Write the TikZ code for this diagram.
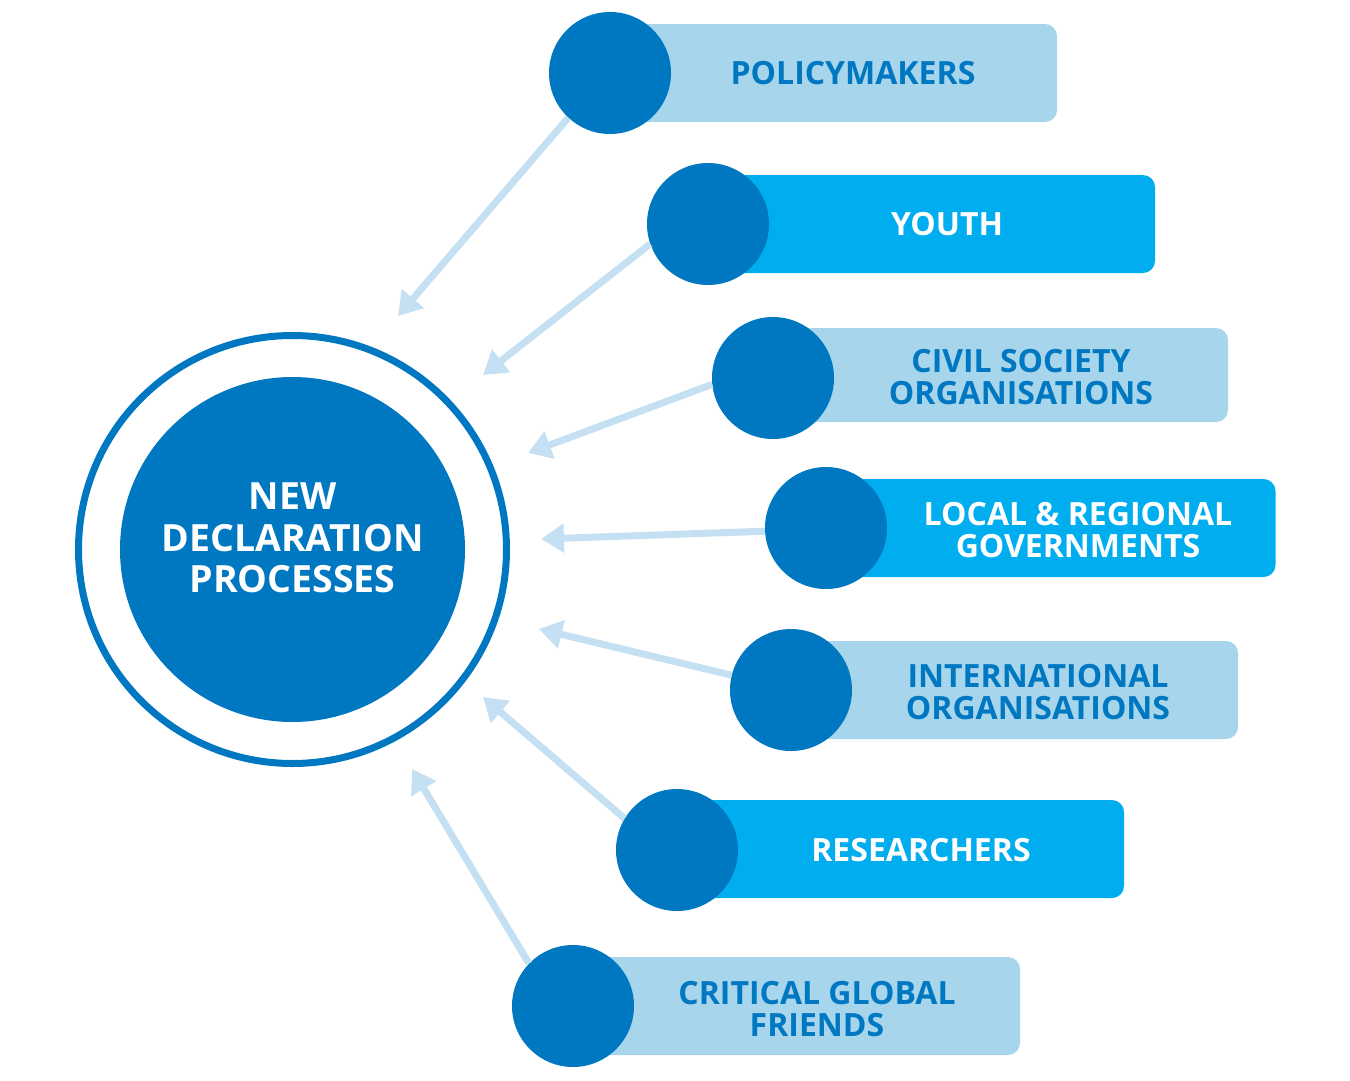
\documentclass[tikz,border=0pt]{standalone}
\usepackage{fontspec}
\setmainfont{Open Sans}
\usetikzlibrary{arrows.meta}
\definecolor{declblue}{RGB}{0,119,193}
\definecolor{barlight}{RGB}{166,213,236}
\definecolor{barbright}{RGB}{0,174,239}
\definecolor{arrowblue}{RGB}{197,224,242}

\begin{document}
\begin{tikzpicture}[x=1pt, y=-1pt,
  bar/.style={rectangle, rounded corners=12pt, minimum width=447pt, minimum height=98pt, inner sep=0pt},
  disc/.style={circle, fill=declblue, minimum size=122pt, inner sep=0pt},
  grouptext/.style={align=center, inner sep=0pt, font=\bfseries\fontsize{32}{32}\selectfont},
  feed/.style={-{Triangle[width=28pt,length=23pt]}, line width=7pt, draw=arrowblue}
]
\useasboundingbox (0,0) rectangle (1350,1080);

% centre
\node[circle, draw=declblue, line width=7pt, minimum size=428pt, inner sep=0pt] (ring) at (292.5,549.5) {};
\node[circle, fill=declblue, minimum size=345pt, inner sep=0pt] (core) at (292.5,549.5) {};
\node[text=white, align=center, inner sep=0pt,
  font=\bfseries\fontsize{37.5}{41.5}\selectfont] (coretxt) at (292.5,538) {NEW\\DECLARATION\\PROCESSES};

% groups
\node[bar, fill=barlight] (polbar) at (833.5,73) {};
\node[disc] (pol) at (610,73) {};
\node[grouptext, text=declblue] (poltxt) at (853,73) {POLICYMAKERS};

\node[bar, fill=barbright] (youbar) at (931.5,224) {};
\node[disc] (you) at (708,224) {};
\node[grouptext, text=white] (youtxt) at (947,224) {YOUTH};

\node[bar, fill=barlight, minimum height=94pt] (csobar) at (1004.5,375) {};
\node[disc] (cso) at (773,378) {};
\node[grouptext, text=declblue] (csotxt) at (1021,377) {CIVIL SOCIETY\\ORGANISATIONS};

\node[bar, fill=barbright] (lrgbar) at (1052,528) {};
\node[disc] (lrg) at (826,528) {};
\node[grouptext, text=white] (lrgtxt) at (1078,530) {LOCAL \& REGIONAL\\GOVERNMENTS};

\node[bar, fill=barlight] (intbar) at (1014.5,690) {};
\node[disc] (int) at (791,690) {};
\node[grouptext, text=declblue] (inttxt) at (1038,692) {INTERNATIONAL\\ORGANISATIONS};

\node[bar, fill=barbright] (resbar) at (900.5,849) {};
\node[disc] (res) at (677,850) {};
\node[grouptext, text=white] (restxt) at (921,850) {RESEARCHERS};

\node[bar, fill=barlight] (cgfbar) at (796.5,1006) {};
\node[disc] (cgf) at (573,1006) {};
\node[grouptext, text=declblue] (cgftxt) at (817,1009) {CRITICAL GLOBAL\\FRIENDS};

% arrow tips
\coordinate (tpol) at (398,316);
\coordinate (tyou) at (483,375);
\coordinate (tcso) at (528,453);
\coordinate (tlrg) at (541,539);
\coordinate (tint) at (539,629);
\coordinate (tres) at (483,697);
\coordinate (tcgf) at (412,769);

\draw[feed] (pol.227) -- (tpol);
\draw[feed] (you.199) -- (tyou);
\draw[feed] (cso.186) -- (tcso);
\draw[feed] (lrg.183) -- (tlrg);
\draw[feed] (int.166) -- (tint);
\draw[feed] (res.149) -- (tres);
\draw[feed] (cgf.136) -- (tcgf);
\end{tikzpicture}
\end{document}
